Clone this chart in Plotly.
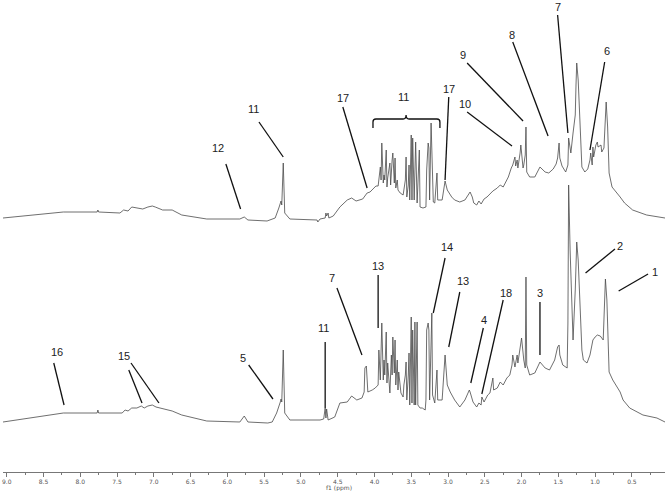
import plotly.graph_objects as go

# Upper spectrum: chemical shift (ppm) and intensity above its own baseline
top_ppm = [9.05, 8.23, 7.77, 7.76, 7.75, 7.46, 7.41, 7.35, 7.30, 7.23, 7.15, 7.08, 7.02, 6.98, 6.88,
           6.75, 6.62, 6.28, 5.83, 5.77, 5.72, 5.46, 5.35, 5.30, 5.27, 5.26, 5.24, 5.22, 5.15, 4.78,
           4.77, 4.74, 4.67, 4.66, 4.65, 4.63, 4.62, 4.56, 4.47, 4.37, 4.31, 4.25, 4.16, 4.10, 4.06,
           4.02, 3.98, 3.95, 3.92, 3.91, 3.90, 3.88, 3.87, 3.86, 3.84, 3.83, 3.82, 3.79, 3.78, 3.76,
           3.75, 3.73, 3.72, 3.71, 3.69, 3.68, 3.65, 3.61, 3.58, 3.57, 3.56, 3.54, 3.53, 3.52, 3.50,
           3.49, 3.48, 3.46, 3.45, 3.44, 3.42, 3.41, 3.39, 3.38, 3.34, 3.30, 3.29, 3.27, 3.26, 3.25,
           3.23, 3.20, 3.18, 3.15, 3.14, 3.08, 3.06, 3.04, 3.01, 2.95, 2.91, 2.84, 2.77, 2.73, 2.70,
           2.67, 2.65, 2.61, 2.58, 2.55, 2.51, 2.47, 2.43, 2.39, 2.33, 2.29, 2.25, 2.21, 2.18, 2.14,
           2.12, 2.09, 2.08, 2.06, 2.05, 2.02, 2.01, 1.98, 1.97, 1.95, 1.94, 1.93, 1.89, 1.82, 1.75,
           1.68, 1.63, 1.57, 1.53, 1.51, 1.49, 1.48, 1.45, 1.40, 1.37, 1.36, 1.34, 1.33, 1.30, 1.27,
           1.26, 1.25, 1.23, 1.21, 1.18, 1.14, 1.10, 1.07, 1.06, 1.04, 1.03, 1.02, 0.99, 0.97, 0.96,
           0.92, 0.91, 0.88, 0.85, 0.83, 0.81, 0.77, 0.70, 0.66, 0.60, 0.49, 0.30, 0.12, 0.05]
top_int = [2, 8, 8, 10, 8, 7, 10, 9, 13, 12, 11, 13, 14, 13, 10,
           10, 5, 1, 1, 3, 0, -1, 2, 12, 19, 15, 57, 7, 1, 0,
           -2, 1, 2, 7, 4, 7, 2, 4, 13, 20, 22, 19, 21, 27, 28,
           31, 34, 34, 53, 40, 77, 37, 45, 40, 70, 33, 42, 57, 35, 60,
           67, 37, 62, 32, 40, 30, 27, 25, 40, 63, 23, 35, 55, 20, 85,
           20, 82, 20, 50, 78, 17, 40, 70, 13, 12, 13, 50, 77, 72, 20,
           97, 18, 17, 47, 20, 20, 30, 39, 30, 23, 20, 18, 20, 25, 28,
           23, 17, 15, 19, 16, 21, 23, 26, 29, 32, 35, 33, 39, 43, 52,
           55, 63, 54, 60, 52, 67, 75, 52, 55, 65, 93, 48, 43, 43, 53,
           48, 47, 51, 56, 62, 77, 62, 54, 48, 55, 82, 70, 67, 87, 105,
           135, 157, 140, 103, 53, 48, 51, 60, 67, 55, 73, 63, 75, 78, 73,
           75, 68, 72, 118, 93, 47, 33, 27, 23, 17, 10, 5, 3, 2]

# Lower spectrum
bottom_ppm = [9.05, 8.23, 7.77, 7.76, 7.75, 7.43, 7.39, 7.35, 7.30, 7.23, 7.17, 7.13, 7.08, 7.02, 6.97,
              6.92, 6.88, 6.75, 6.62, 6.28, 5.83, 5.77, 5.72, 5.45, 5.39, 5.33, 5.28, 5.27, 5.26, 5.24,
              5.22, 5.15, 4.74, 4.69, 4.67, 4.66, 4.65, 4.63, 4.54, 4.47, 4.37, 4.31, 4.24, 4.17, 4.14,
              4.13, 4.11, 4.10, 4.09, 4.03, 3.99, 3.95, 3.94, 3.92, 3.91, 3.90, 3.88, 3.87, 3.86, 3.84,
              3.83, 3.82, 3.79, 3.77, 3.76, 3.75, 3.73, 3.72, 3.71, 3.69, 3.68, 3.67, 3.64, 3.61, 3.60,
              3.58, 3.57, 3.56, 3.54, 3.53, 3.52, 3.50, 3.49, 3.48, 3.46, 3.45, 3.44, 3.42, 3.41, 3.38,
              3.35, 3.31, 3.30, 3.29, 3.27, 3.26, 3.25, 3.23, 3.22, 3.21, 3.18, 3.15, 3.14, 3.08, 3.06,
              3.04, 3.01, 2.97, 2.91, 2.84, 2.77, 2.73, 2.71, 2.70, 2.66, 2.61, 2.58, 2.55, 2.54, 2.51,
              2.48, 2.46, 2.43, 2.39, 2.38, 2.33, 2.29, 2.25, 2.20, 2.16, 2.13, 2.12, 2.09, 2.06, 2.05,
              2.02, 2.00, 1.97, 1.95, 1.94, 1.93, 1.91, 1.89, 1.82, 1.75, 1.68, 1.62, 1.55, 1.51, 1.49,
              1.48, 1.44, 1.38, 1.37, 1.36, 1.34, 1.32, 1.30, 1.27, 1.26, 1.25, 1.23, 1.21, 1.18, 1.16,
              1.11, 1.07, 1.03, 1.00, 0.97, 0.93, 0.89, 0.86, 0.84, 0.81, 0.76, 0.66, 0.62, 0.53, 0.35,
              0.16, 0.05]
bottom_int = [0, 9, 9, 12, 9, 9, 12, 11, 14, 14, 16, 14, 16, 17, 15,
              14, 13, 11, 7, 1, 0, 6, 0, -1, 0, 9, 20, 23, 20, 72,
              9, 2, 2, 3, 14, 4, 13, 2, 5, 19, 20, 26, 22, 24, 30,
              54, 56, 37, 30, 32, 34, 37, 72, 42, 82, 99, 42, 62, 47, 90,
              39, 59, 29, 67, 47, 85, 49, 82, 37, 62, 32, 50, 29, 25, 37,
              47, 60, 22, 47, 69, 17, 105, 19, 92, 17, 100, 17, 100, 17, 14,
              14, 12, 22, 92, 99, 92, 22, 82, 109, 27, 19, 52, 22, 22, 42,
              67, 37, 30, 22, 15, 22, 30, 32, 30, 20, 15, 19, 17, 25, 20,
              24, 27, 29, 44, 32, 34, 40, 37, 44, 47, 57, 67, 55, 67, 59,
              72, 84, 62, 54, 145, 57, 52, 47, 49, 60, 54, 52, 62, 75, 77,
              67, 57, 54, 99, 237, 172, 122, 82, 132, 162, 180, 162, 122, 72, 62,
              59, 67, 82, 85, 87, 86, 82, 143, 122, 50, 42, 30, 22, 14, 7,
              4, 0]

TOP_OFFSET = 252
BOTTOM_OFFSET = 50

# Peak labels: (text, text ppm, text y, leader start (ppm, y), leader end (ppm, y))
top_labels = [
    ("12", 6.13, 324, (6.02, 308), (5.82, 263)),
    ("11", 5.65, 363, (5.57, 350), (5.24, 315)),
    ("17", 4.43, 374, (4.43, 365), (4.10, 284)),
    ("17", 2.99, 383, (2.99, 375), (3.04, 292)),
    ("10", 2.77, 368, (2.74, 360), (2.13, 326)),
    ("9", 2.80, 417, (2.74, 409), (1.98, 351)),
    ("8", 2.13, 437, (2.12, 430), (1.64, 336)),
    ("7", 1.51, 465, (1.51, 457), (1.37, 339)),
    ("6", 0.84, 421, (0.87, 410), (1.07, 322)),
]
bottom_labels = [
    ("16", 8.32, 120, (8.36, 109), (8.22, 67)),
    ("15", 7.41, 116, (7.34, 102), (7.16, 69)),
    ("", 7.41, 116, (7.31, 109), (6.93, 69)),
    ("5", 5.79, 114, (5.71, 107), (5.38, 73)),
    ("11", 4.69, 144, (4.67, 130), (4.67, 64)),
    ("7", 4.58, 194, (4.51, 184), (4.17, 117)),
    ("13", 3.95, 206, (3.95, 197), (3.95, 144)),
    ("14", 3.01, 225, (3.04, 214), (3.20, 159)),
    ("13", 2.80, 191, (2.84, 180), (2.99, 125)),
    ("4", 2.51, 152, (2.52, 144), (2.69, 89)),
    ("18", 2.21, 179, (2.25, 172), (2.54, 78)),
    ("3", 1.75, 179, (1.75, 170), (1.75, 117)),
    ("2", 0.66, 226, (0.73, 223), (1.13, 199)),
    ("1", 0.19, 200, (0.28, 198), (0.68, 181)),
]

fig = go.Figure()

fig.add_trace(go.Scatter(
    x=top_ppm, y=[v + TOP_OFFSET for v in top_int],
    mode="lines", line=dict(color="#4a4a4a", width=0.8), hoverinfo="skip",
))
fig.add_trace(go.Scatter(
    x=bottom_ppm, y=[v + BOTTOM_OFFSET for v in bottom_int],
    mode="lines", line=dict(color="#4a4a4a", width=0.8), hoverinfo="skip",
))

for text, tx, ty, (x0, y0), (x1, y1) in top_labels + bottom_labels:
    fig.add_shape(type="line", x0=x0, y0=y0, x1=x1, y1=y1, xref="x", yref="y",
                  line=dict(color="#111111", width=1.3))
    if text:
        fig.add_annotation(x=tx, y=ty, text=text, showarrow=False, xref="x", yref="y",
                           font=dict(family="Liberation Sans", size=11, color="#222222"))

# brace over the sugar region of the upper spectrum
fig.add_shape(
    type="path", xref="x", yref="y",
    path="M 4.02,344 L 4.02,350 Q 4.02,353 3.98,353 L 3.61,353 Q 3.57,353 3.57,357 "
         "Q 3.57,353 3.53,353 L 3.15,353 Q 3.11,353 3.11,350 L 3.11,344",
    line=dict(color="#111111", width=1.3),
)
fig.add_annotation(x=3.60, y=375, text="11", showarrow=False, xref="x", yref="y",
                   font=dict(family="Liberation Sans", size=11, color="#222222"))

# axis title, placed just under the tick labels
fig.add_annotation(x=4.48, y=0, xref="x", yref="paper", yanchor="middle", yshift=-16,
                   text="f1 (ppm)", showarrow=False,
                   font=dict(family="DejaVu Sans", size=6, color="#555555"))

fig.update_layout(
    width=669,
    height=491,
    margin=dict(l=3, r=4, t=0, b=19),
    plot_bgcolor="white",
    paper_bgcolor="white",
    showlegend=False,
    xaxis=dict(
        range=[9.05, 0.05],
        tick0=0, dtick=0.5, tickformat=".1f",
        showgrid=False, zeroline=False,
        showline=True, linecolor="#777777", linewidth=1,
        ticks="outside", ticklen=4, tickcolor="#777777",
        minor=dict(dtick=0.25, tick0=0, ticks="outside", ticklen=2, tickcolor="#777777"),
        tickfont=dict(family="DejaVu Sans", size=6, color="#555555"),
        automargin=False,
    ),
    yaxis=dict(range=[0, 472], visible=False, fixedrange=True),
)

# drop the browser's default page margin so the figure sits at the window origin
fig.write_html(
    "out.html",
    config={"displayModeBar": False},
    post_script="document.body.style.margin='0';document.body.style.overflow='hidden';",
)
